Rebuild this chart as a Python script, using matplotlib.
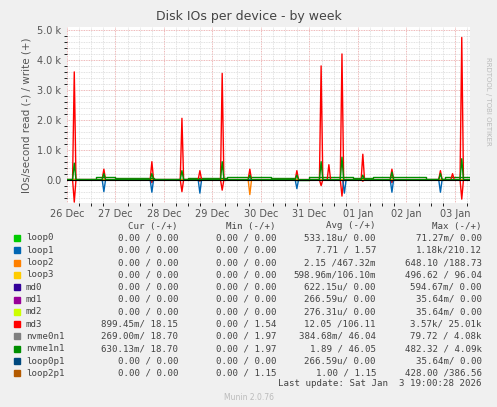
import matplotlib.pyplot as plt
import numpy as np

names = ["loop0", "loop1", "loop2", "loop3", "md0", "md1", "md2", "md3",
         "nvme0n1", "nvme1n1", "loop0p1", "loop2p1"]
colors = ["#00CC00", "#0066B3", "#FF8000", "#FFCC00", "#330099", "#990099",
          "#CCFF00", "#FF0000", "#808080", "#008F00", "#00487D", "#B35A00"]
cur = ["0.00 / 0.00", "0.00 / 0.00", "0.00 / 0.00", "0.00 / 0.00", "0.00 / 0.00",
       "0.00 / 0.00", "0.00 / 0.00", "899.45m/ 18.15", "269.00m/ 18.70",
       "630.13m/ 18.70", "0.00 / 0.00", "0.00 / 0.00"]
mins = ["0.00 / 0.00", "0.00 / 0.00", "0.00 / 0.00", "0.00 / 0.00", "0.00 / 0.00",
        "0.00 / 0.00", "0.00 / 0.00", "0.00 / 1.54", "0.00 / 1.97",
        "0.00 / 1.97", "0.00 / 0.00", "0.00 / 1.15"]
avgs = ["533.18u/ 0.00", "7.71 / 1.57", "2.15 /467.32m", "598.96m/106.10m",
        "622.15u/ 0.00", "266.59u/ 0.00", "276.31u/ 0.00", "12.05 /106.11",
        "384.68m/ 46.04", "1.89 / 46.05", "266.59u/ 0.00", "1.00 / 1.15"]
maxs = ["71.27m/ 0.00", "1.18k/210.12", "648.10 /188.73", "496.62 / 96.04",
        "594.67m/ 0.00", "35.64m/ 0.00", "35.64m/ 0.00", "3.57k/ 25.01k",
        "79.72 / 4.08k", "482.32 / 4.09k", "35.64m/ 0.00", "428.00 /386.56"]

day_labels = ["26 Dec", "27 Dec", "28 Dec", "29 Dec", "30 Dec", "31 Dec",
              "01 Jan", "02 Jan", "03 Jan"]

# spikes: day offset from 26 Dec, write (+) and read (-) in k IOs/s
md3_t = [0.15, 0.76, 1.75, 2.37, 2.74, 3.2, 3.77, 4.74, 5.24, 5.4, 5.67, 6.1, 6.7, 7.7, 7.95, 8.14]
md3_w = [3.6, 0.35, 0.6, 2.05, 0.3, 3.55, 0.35, 0.3, 3.8, 0.5, 4.2, 0.85, 0.35, 0.3, 0.2, 4.75]
md3_r = [-0.75, 0.0, -0.1, -0.4, -0.05, -0.35, 0.0, 0.0, -0.2, 0.0, -0.55, -0.05, -0.1, 0.0, 0.0, -0.65]
nvme_t = [0.15, 0.76, 1.75, 2.37, 3.2, 3.77, 4.74, 5.24, 5.67, 6.1, 6.7, 7.7, 8.14]
nvme_w = [0.55, 0.2, 0.2, 0.3, 0.6, 0.15, 0.15, 0.6, 0.75, 0.15, 0.25, 0.2, 0.7]
nvme_base_t = [0.0, 0.6, 1.0, 1.8, 2.5, 3.3, 4.2, 4.7, 5.0, 5.9, 6.3, 6.9, 7.4, 7.8, 8.3]
nvme_base_v = [0.03, 0.1, 0.06, 0.03, 0.04, 0.1, 0.06, 0.0, 0.08, 0.05, 0.1, 0.08, 0.03, 0.1, 0.03]
loop1_t = [0.76, 1.75, 2.74, 4.74, 5.72, 6.7, 7.7]
loop1_r = [-0.4, -0.42, -0.45, -0.3, -0.45, -0.42, -0.42]
loop2p1_t = [3.77]
loop2p1_r = [-0.5]


def spikes(t, v, w=0.035):
    xs, ys = [0.0], [0.0]
    for ti, vi in zip(t, v):
        xs += [ti - w, ti, ti + w]
        ys += [0.0, vi, 0.0]
    xs.append(8.3)
    ys.append(0.0)
    return np.array(xs), np.array(ys)


fig = plt.figure(figsize=(4.97, 4.07), dpi=100, facecolor="#F0F0F0")
ax = fig.add_axes([67 / 497, 204 / 407, 403 / 497, 176 / 407])
ax.set_facecolor("white")
ax.set_xlim(0, 8.31)
ax.set_ylim(-0.78, 5.1)

ax.set_yticks(np.arange(-0.6, 5.01, 0.2), minor=True)
ax.set_xticks(np.arange(0, 8.31, 0.25), minor=True)
ax.grid(which="minor", color="#D8D8D8", linestyle=(0, (1, 1)), linewidth=0.6)
ax.grid(which="major", color="#E8A0A0", linestyle=(0, (1, 1)), linewidth=0.6)

ax.step(nvme_base_t, nvme_base_v, where="post", color="#008F00", lw=1)
for t, v, c in [(md3_t, md3_w, "#FF0000"), (md3_t, md3_r, "#FF0000"),
                (loop1_t, loop1_r, "#0066B3"), (loop2p1_t, loop2p1_r, "#FF8000"),
                (nvme_t, nvme_w, "#008F00")]:
    xs, ys = spikes(t, v)
    ax.plot(xs, ys, color=c, lw=1)
ax.axhline(0, color="black", lw=0.8)

ax.set_xticks(range(9))
ax.set_xticklabels(day_labels)
ax.set_yticks([0, 1, 2, 3, 4, 5])
ax.set_yticklabels(["0.0", "1.0 k", "2.0 k", "3.0 k", "4.0 k", "5.0 k"])
ax.tick_params(labelsize=7, colors="#555555", length=0, pad=4)
for s in ax.spines.values():
    s.set_visible(False)
ax.set_ylabel("IOs/second read (-) / write (+)", fontsize=7.5, color="#555555")
fig.text(0.5, 0.952, "Disk IOs per device - by week", ha="center", fontsize=9, color="#444444")
fig.text(0.982, 0.75, "RRDTOOL / TOBI OETIKER", rotation=270, fontsize=5, color="#BBBBBB",
         ha="center", va="center")

mono = dict(family="DejaVu Sans Mono", fontsize=6.6, color="#444444")
y0 = 407 - 226
for x, h in [(178, "Cur (-/+)"), (276, "Min (-/+)"), (376, "Avg (-/+)"), (482, "Max (-/+)")]:
    fig.text(x / 497, y0 / 407, h, ha="right", va="center", **mono)
for i, n in enumerate(names):
    y = (407 - 238 - 12.3 * i) / 407
    fig.patches.append(plt.Rectangle((14 / 497, y - 3 / 407), 6 / 497, 6 / 407,
                                     transform=fig.transFigure, color=colors[i]))
    fig.text(26 / 497, y, n, ha="left", va="center", **mono)
    for x, col in [(178, cur), (276, mins), (376, avgs), (482, maxs)]:
        fig.text(x / 497, y, col[i], ha="right", va="center", **mono)
fig.text(482 / 497, (407 - 384) / 407, "Last update: Sat Jan  3 19:00:28 2026",
         ha="right", va="center", **mono)
fig.text(0.5, (407 - 398) / 407, "Munin 2.0.76", ha="center", va="center",
         fontsize=5.5, color="#BBBBBB")

fig.savefig("out.png", dpi=100, facecolor=fig.get_facecolor())
